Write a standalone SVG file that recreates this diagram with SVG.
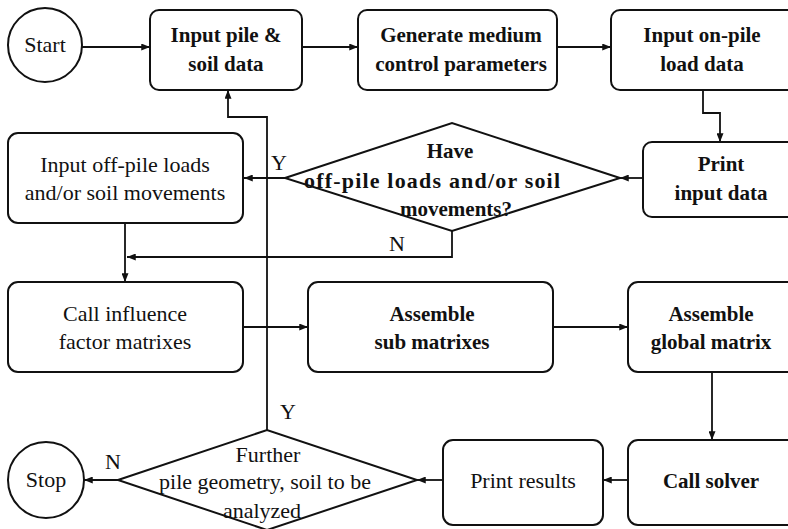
<svg xmlns="http://www.w3.org/2000/svg" width="788" height="529" viewBox="0 0 788 529">
<defs>
<style>
.box{fill:#fff;stroke:#111;stroke-width:2}
.ln{fill:none;stroke:#111;stroke-width:1.8}
.b{font-family:"Liberation Serif","Times New Roman",serif;font-weight:bold;font-size:21px;fill:#111;text-anchor:middle}
.r{font-family:"Liberation Serif","Times New Roman",serif;font-size:22px;fill:#111;text-anchor:middle}
</style>
<marker id="ah" viewBox="0 0 10 8" refX="10" refY="4" markerWidth="9" markerHeight="7" markerUnits="userSpaceOnUse" orient="auto">
<path d="M0,0 L10,4 L0,8 Z" fill="#111"/>
</marker>
</defs>
<rect width="788" height="529" fill="#fff"/>

<g id="connectors">
<line class="ln" x1="82" y1="47" x2="150" y2="47" marker-end="url(#ah)"/>
<line class="ln" x1="302" y1="47" x2="358" y2="47" marker-end="url(#ah)"/>
<line class="ln" x1="557" y1="47" x2="611" y2="47" marker-end="url(#ah)"/>
<polyline class="ln" points="703,90 703,113 720,113 720,142" marker-end="url(#ah)"/>
<line class="ln" x1="643" y1="178" x2="620" y2="178" marker-end="url(#ah)"/>
<line class="ln" x1="285" y1="178" x2="244" y2="178" marker-end="url(#ah)"/>
<line class="ln" x1="125" y1="223" x2="125" y2="282" marker-end="url(#ah)"/>
<polyline class="ln" points="452,231 452,257 127,257" marker-end="url(#ah)"/>
<line class="ln" x1="243" y1="327" x2="308" y2="327" marker-end="url(#ah)"/>
<line class="ln" x1="553" y1="327" x2="628" y2="327" marker-end="url(#ah)"/>
<line class="ln" x1="712" y1="372" x2="712" y2="440" marker-end="url(#ah)"/>
<line class="ln" x1="628" y1="480" x2="603" y2="480" marker-end="url(#ah)"/>
<line class="ln" x1="443" y1="480" x2="417" y2="480" marker-end="url(#ah)"/>
<line class="ln" x1="118" y1="480" x2="84" y2="480" marker-end="url(#ah)"/>
<polyline class="ln" points="267,430 267,117 228,117 228,90" marker-end="url(#ah)"/>
<text class="r" x="279" y="170">Y</text>
<text class="r" x="397" y="251">N</text>
<text class="r" x="288" y="419">Y</text>
<text class="r" x="113" y="469">N</text>
</g>

<g id="start">
<circle class="box" cx="45" cy="45" r="37"/>
<text class="r" x="45" y="52">Start</text>
</g>
<g id="input-pile">
<rect class="box" x="150" y="10" width="152" height="80" rx="9"/>
<text class="b" x="226" y="42">Input pile &amp;</text>
<text class="b" x="226" y="71">soil data</text>
</g>
<g id="generate">
<rect class="box" x="358" y="10" width="199" height="80" rx="9"/>
<text class="b" x="461" y="42">Generate medium</text>
<text class="b" x="461" y="71">control parameters</text>
</g>
<g id="input-on-pile">
<rect class="box" x="611" y="10" width="190" height="80" rx="9"/>
<text class="b" x="702" y="42">Input on-pile</text>
<text class="b" x="702" y="71">load data</text>
</g>
<g id="print-input">
<rect class="box" x="643" y="142" width="160" height="75" rx="9"/>
<text class="b" x="721" y="171">Print</text>
<text class="b" x="721" y="200">input data</text>
</g>
<g id="have-decision">
<polygon class="box" points="285,178 452,123 620,178 452,231"/>
<text class="b" x="450" y="158">Have</text>
<text class="b" x="432" y="188" style="font-size:22px" textLength="256" lengthAdjust="spacing">off-pile loads and/or soil</text>
<text class="b" x="456" y="216">movements?</text>
</g>
<g id="input-off-pile">
<rect class="box" x="8" y="133" width="235" height="90" rx="10"/>
<text class="r" x="125" y="172">Input off-pile loads</text>
<text class="r" x="125" y="200">and/or soil movements</text>
</g>
<g id="call-influence">
<rect class="box" x="8" y="282" width="235" height="90" rx="10"/>
<text class="r" x="125" y="321">Call influence</text>
<text class="r" x="125" y="349">factor matrixes</text>
</g>
<g id="assemble-sub">
<rect class="box" x="308" y="282" width="245" height="90" rx="10"/>
<text class="b" x="432" y="321">Assemble</text>
<text class="b" x="432" y="349">sub matrixes</text>
</g>
<g id="assemble-global">
<rect class="box" x="628" y="282" width="170" height="90" rx="10"/>
<text class="b" x="711" y="321">Assemble</text>
<text class="b" x="711" y="349">global matrix</text>
</g>
<g id="call-solver">
<rect class="box" x="628" y="440" width="170" height="85" rx="10"/>
<text class="b" x="711" y="488">Call solver</text>
</g>
<g id="print-results">
<rect class="box" x="443" y="440" width="160" height="85" rx="10"/>
<text class="r" x="523" y="488">Print results</text>
</g>
<g id="further-decision">
<polygon class="box" points="118,480 267,430 417,480 267,530"/>
<text class="r" x="268" y="462">Further</text>
<text class="r" x="265" y="489">pile geometry, soil to be</text>
<text class="r" x="262" y="518">analyzed</text>
</g>
<g id="stop">
<circle class="box" cx="46" cy="480" r="38"/>
<text class="r" x="46" y="487">Stop</text>
</g>
</svg>
